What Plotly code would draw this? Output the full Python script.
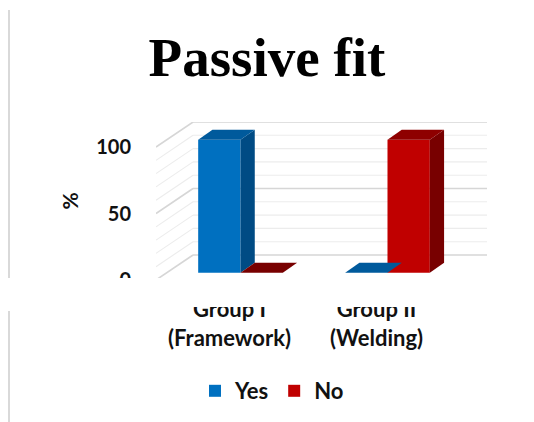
import plotly.graph_objects as go

# ---- data ----
categories = ["Group I<br>(Framework)", "Group II<br>(Welding)"]
yes_values = [100, 0]
no_values = [0, 100]
y_ticks = [0, 50, 100]
series_names = ["Yes", "No"]

# ---- style ----
FRONT = {"Yes": "#0070C0", "No": "#C00000"}
SIDE = {"Yes": "#004B84", "No": "#780000"}
TOP = {"Yes": "#005A9C", "No": "#8E0000"}
FONT = "Lato"
BAR_W = 0.288
DX_BAR, DY_BAR = 0.097, 7.5        # depth of a bar (data units)
DX_WALL, DY_WALL = 0.177, 13.3     # back wall offset
DX_FRONT, DY_FRONT = -0.075, -5.5  # front floor edge offset
YMAX = 100

# page geometry (browser body has an 8px margin)
PAGE_OFF = 8
W, H = 534 - PAGE_OFF, 422 - PAGE_OFF
L, R, T, B = 156 - PAGE_OFF, 47, 122 - PAGE_OFF, 142
pw, ph = W - L - R, H - T - B


def px_x(px):
    return (px - PAGE_OFF - L) / pw


def px_y(py):
    return (H - B - (py - PAGE_OFF)) / ph


n = len(categories)
xpos = list(range(n))

fig = go.Figure()
series = [("Yes", yes_values, -BAR_W), ("No", no_values, 0.0)]
for name, vals, off in series:
    fig.add_trace(go.Bar(
        x=xpos, y=vals, name=name, width=BAR_W, offset=off,
        marker=dict(color=FRONT[name], line=dict(width=0)),
        hoverinfo="name+y",
    ))

shapes = []
# back wall + left wall gridlines
for v in range(0, YMAX + 1, 10):
    major = v % 50 == 0
    col = "#d6d6d6" if major else "#ececec"
    w = 1.6 if major else 1.1
    shapes.append(dict(type="line", xref="x", yref="y", layer="below",
                       x0=-0.5 + DX_WALL, x1=n - 0.5 + DX_WALL,
                       y0=v + DY_WALL, y1=v + DY_WALL,
                       line=dict(color=col, width=w)))
    shapes.append(dict(type="line", xref="x", yref="y", layer="below",
                       x0=-0.5 + DX_FRONT, x1=-0.5 + DX_WALL,
                       y0=v + DY_FRONT, y1=v + DY_WALL,
                       line=dict(color=col, width=w)))

# 3D side and top faces of bars, from values
for name, vals, off in series:
    for xi, v in zip(xpos, vals):
        x0 = xi + off
        x1 = x0 + BAR_W
        side = (f"M{x1},0 L{x1 + DX_BAR},{DY_BAR} L{x1 + DX_BAR},{v + DY_BAR} "
                f"L{x1},{v} Z")
        top = (f"M{x0},{v} L{x0 + DX_BAR},{v + DY_BAR} L{x1 + DX_BAR},{v + DY_BAR} "
               f"L{x1},{v} Z")
        if v > 0:
            shapes.append(dict(type="path", xref="x", yref="y", path=side,
                               fillcolor=SIDE[name], line=dict(width=0), layer="above"))
        top_col = TOP[name] if (v > 0 or name == "Yes") else SIDE[name]
        shapes.append(dict(type="path", xref="x", yref="y", path=top,
                           fillcolor=top_col, line=dict(width=0), layer="above"))

# page artefacts of the reference: left border line and white band
shapes.append(dict(type="line", xref="paper", yref="paper", layer="above",
                   x0=px_x(9), x1=px_x(9), y0=px_y(10), y1=px_y(278),
                   line=dict(color="#d9d9d9", width=2)))
shapes.append(dict(type="line", xref="paper", yref="paper", layer="above",
                   x0=px_x(9), x1=px_x(9), y0=px_y(311), y1=px_y(422),
                   line=dict(color="#d9d9d9", width=2)))
shapes.append(dict(type="rect", xref="paper", yref="paper", layer="above",
                   x0=px_x(0), x1=px_x(534), y0=px_y(307), y1=px_y(278),
                   fillcolor="white", line=dict(width=0)))

fig.update_layout(
    width=W, height=H,
    margin=dict(l=L, r=R, t=T, b=B),
    paper_bgcolor="white", plot_bgcolor="white",
    barmode="overlay",
    title=dict(text="Passive fit", x=(267 - PAGE_OFF) / W, xref="container", xanchor="center",
               y=1 - (57 - PAGE_OFF) / H, yref="container", yanchor="middle",
               font=dict(family="Liberation Serif", size=55, color="black", weight="bold")),
    xaxis=dict(range=[-0.5 + DX_FRONT, n - 0.5 + DX_WALL],
               tickvals=[x + DX_FRONT for x in xpos], ticktext=categories,
               showgrid=False, zeroline=False, showline=False, ticks="",
               ticklabelstandoff=14,
               tickfont=dict(family=FONT, size=22, color="#111", weight="bold")),
    yaxis=dict(range=[DY_FRONT, YMAX + DY_WALL],
               tickvals=[t + DY_FRONT for t in y_ticks], ticktext=[str(t) for t in y_ticks],
               showgrid=False, zeroline=False, showline=False, ticks="",
               ticklabelstandoff=24,
               tickfont=dict(family=FONT, size=20, color="#111", weight="bold"),
               title=dict(text="%", standoff=11,
                          font=dict(family=FONT, size=21, color="#111", weight="bold"))),
    legend=dict(orientation="h", xref="container", yref="container",
                x=(272 - PAGE_OFF) / W, xanchor="center", y=1 - (391 - PAGE_OFF) / H,
                yanchor="middle",
                font=dict(family=FONT, size=22, color="#111", weight="bold"),
                itemwidth=30, tracegroupgap=0),
    shapes=shapes,
    showlegend=True,
)

fig.write_html("out.html")
